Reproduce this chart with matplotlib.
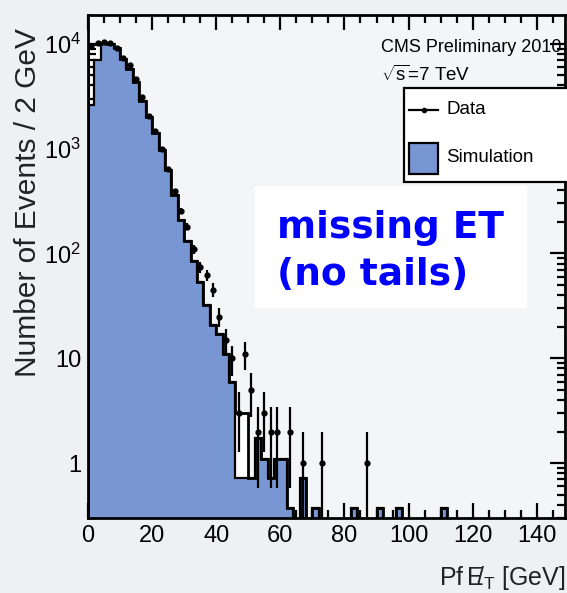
import numpy as np
import matplotlib
matplotlib.use("Agg")
import matplotlib.pyplot as plt
from matplotlib.patches import Rectangle
from matplotlib.lines import Line2D
from matplotlib.ticker import FixedLocator, FuncFormatter, MultipleLocator, LogLocator, NullFormatter

plt.rcParams['font.family'] = ['Liberation Sans', 'DejaVu Sans']
plt.rcParams['mathtext.fontset'] = 'custom'
plt.rcParams['mathtext.rm'] = 'Liberation Sans'
plt.rcParams['mathtext.it'] = 'Liberation Sans:italic'
plt.rcParams['mathtext.bf'] = 'Liberation Sans:bold'

# 2 GeV bins of PF missing transverse energy
bin_edges = np.arange(0, 152, 2)

# total simulated prediction (outlined histogram)
sim_total = [10000, 10000, 10200, 10000, 9200, 7100, 5700, 4300, 2850, 2000,
             1400, 960, 620, 360, 210, 132, 85, 54, 32, 21,
             17, 11, 6, 3, 3, 0.73, 1.74, 1.1, 0.73, 1.1,
             1.1, 0.37, 0, 0.73, 0, 0.37, 0, 0, 0, 0,
             0, 0.37, 0, 0, 0, 0.37, 0, 0, 0.37, 0,
             0, 0, 0, 0, 0, 0.37, 0, 0, 0, 0,
             0, 0, 0, 0, 0, 0, 0, 0, 0, 0,
             0, 0, 0, 0, 0]

# simulation component shown in blue
sim_fill = [2600, 7000, 10200, 10000, 9200, 7100, 5700, 4300, 2850, 2000,
            1400, 960, 620, 360, 210, 132, 85, 54, 32, 21,
            17, 11, 6, 0.73, 0.73, 0.73, 1.74, 1.1, 0.73, 1.1,
            1.1, 0.37, 0, 0.73, 0, 0.37, 0, 0, 0, 0,
            0, 0.37, 0, 0, 0, 0.37, 0, 0, 0.37, 0,
            0, 0, 0, 0, 0, 0.37, 0, 0, 0, 0,
            0, 0, 0, 0, 0, 0, 0, 0, 0, 0,
            0, 0, 0, 0, 0]

# observed event counts
data_counts = [9600, 10100, 10300, 10100, 9100, 7300, 6300, 4600, 3100, 2050,
               1480, 1000, 640, 390, 256, 180, 110, 74, 62, 45,
               25, 15, 10, 3, 11, 5, 2, 3, 2, 2,
               0, 2, 0, 1, 0, 0, 1, 0, 0, 0,
               0, 0, 0, 1, 0, 0, 0, 0, 0, 0,
               0, 0, 0, 0, 0, 0, 0, 0, 0, 0,
               0, 0, 0, 0, 0, 0, 0, 0, 0, 0,
               0, 0, 0, 0, 0]

x_ticks = [0, 20, 40, 60, 80, 100, 120, 140]
y_ticks = [1, 10, 100, 1000, 10000]
y_tick_labels = ['1', '10', r'$\mathregular{10^{2}}$', r'$\mathregular{10^{3}}$', r'$\mathregular{10^{4}}$']

BG = '#eef0f2'
BLUE = '#7896d2'

fig = plt.figure(figsize=(5.67, 5.93), dpi=100, facecolor=BG)
ax = fig.add_axes([88 / 567, 1 - 518 / 593, (565 - 88) / 567, (518 - 15) / 593])
ax.set_facecolor('#f4f5f6')

floor = 1e-3
tot = np.where(np.array(sim_total) > 0, sim_total, floor)
blu = np.where(np.array(sim_fill) > 0, sim_fill, floor)

ax.stairs(tot, bin_edges, baseline=floor, fill=True, facecolor='white', edgecolor='none', zorder=1)
ax.stairs(blu, bin_edges, baseline=floor, fill=True, facecolor=BLUE, edgecolor='none', zorder=2)
ax.stairs(blu, bin_edges, baseline=floor, color='black', linewidth=1.6, zorder=3)
ax.stairs(tot, bin_edges, baseline=floor, color='black', linewidth=2.0, zorder=3)

centers = 0.5 * (bin_edges[:-1] + bin_edges[1:])
counts = np.array(data_counts, dtype=float)
sel = counts > 0
err = np.sqrt(counts[sel])
lo = np.minimum(err, counts[sel] - floor)
ax.errorbar(centers[sel], counts[sel], yerr=[lo, err], fmt='o', color='black',
            markersize=3.5, elinewidth=1.6, capsize=0, zorder=5)

ax.set_yscale('log')
ax.set_xlim(0, 148.8)
ax.set_ylim(0.30, 1.88e4)

ax.xaxis.set_major_locator(FixedLocator(x_ticks))
ax.xaxis.set_minor_locator(MultipleLocator(5))
ax.yaxis.set_major_locator(FixedLocator(y_ticks))
ax.yaxis.set_major_formatter(FuncFormatter(
    lambda v, p: y_tick_labels[y_ticks.index(int(round(v)))] if int(round(v)) in y_ticks else ''))
ax.yaxis.set_minor_locator(LogLocator(base=10, subs=np.arange(2, 10)))
ax.yaxis.set_minor_formatter(NullFormatter())

ax.tick_params(which='both', direction='in', top=True, right=True, width=1.6, colors='black')
ax.tick_params(which='major', length=11, labelsize=17, pad=5)
ax.tick_params(which='minor', length=6)
for s in ax.spines.values():
    s.set_linewidth(2.0)

# axis titles
fig.text(28 / 567, 1 - 28 / 593, 'Number of Events / 2 GeV', rotation=90,
         ha='center', va='top', fontsize=21.5, color='#222222')
fig.text(565 / 567, 1 - 578 / 593, r'Pf $\mathregular{\ /\!\!\!\!\!E_{T}}$ [GeV]',
         ha='right', va='center', fontsize=18, color='#222222')

# experiment labels
fig.text(381 / 567, 1 - 47 / 593, 'CMS Preliminary 2010', ha='left', va='center', fontsize=13)
fig.text(381 / 567, 1 - 75 / 593, r'$\mathregular{\sqrt{s}}$=7 TeV', ha='left', va='center', fontsize=13.5)

# legend box
fig.patches.append(Rectangle((404 / 567, 1 - 182 / 593), 180 / 567, 94 / 593, transform=fig.transFigure,
                             facecolor='white', edgecolor='black', linewidth=1.6, zorder=6))
fig.lines.append(Line2D([409 / 567, 438 / 567], [1 - 110 / 593] * 2, transform=fig.transFigure,
                        color='black', linewidth=1.6, zorder=7))
fig.lines.append(Line2D([423.5 / 567], [1 - 110 / 593], transform=fig.transFigure,
                        color='black', marker='o', markersize=3, zorder=7))
fig.patches.append(Rectangle((409 / 567, 1 - 174 / 593), 29 / 567, 31 / 593, transform=fig.transFigure,
                             facecolor=BLUE, edgecolor='black', linewidth=1.6, zorder=7))
fig.text(446 / 567, 1 - 110 / 593, 'Data', ha='left', va='center', fontsize=13.5, zorder=8)
fig.text(446 / 567, 1 - 157 / 593, 'Simulation', ha='left', va='center', fontsize=13.5, zorder=8)

# annotation
fig.patches.append(Rectangle((255 / 567, 1 - 308 / 593), 272 / 567, 122 / 593, transform=fig.transFigure,
                             facecolor='white', edgecolor='none', zorder=5))
fig.text(277 / 567, 1 - 228 / 593, 'missing ET', ha='left', va='center', fontsize=27,
         fontweight='bold', color='#0000ff', family=['DejaVu Sans'], zorder=9)
fig.text(277 / 567, 1 - 275 / 593, '(no tails)', ha='left', va='center', fontsize=27,
         fontweight='bold', color='#0000ff', family=['DejaVu Sans'], zorder=9)

fig.savefig('out.png', dpi=100, facecolor=BG)
